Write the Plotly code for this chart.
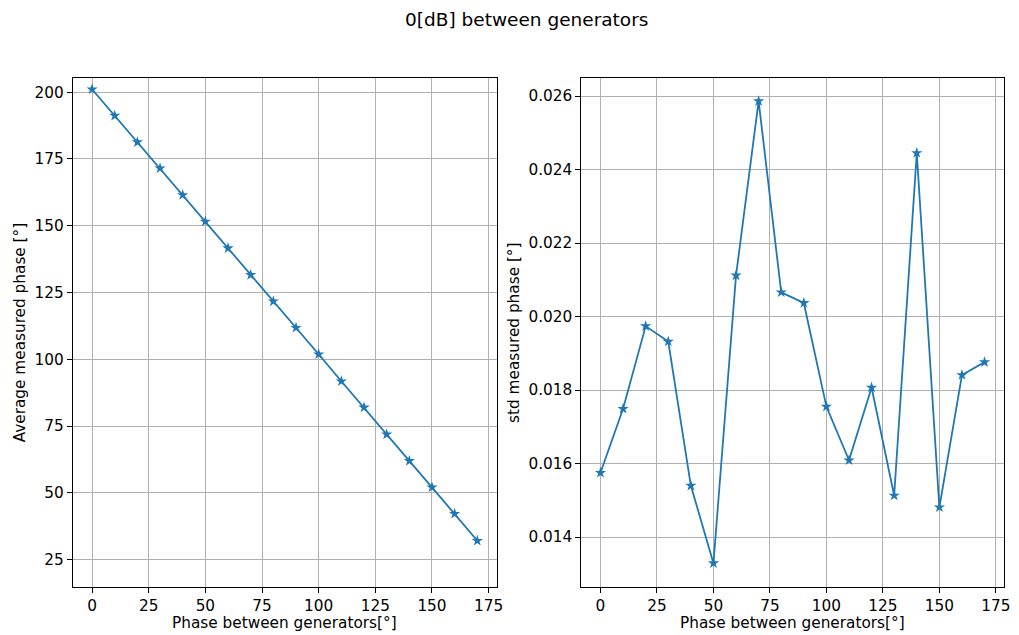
import plotly.graph_objects as go

# Phase offset between the two generators (degrees)
phase_between = [0, 10, 20, 30, 40, 50, 60, 70, 80, 90, 100, 110, 120, 130, 140, 150, 160, 170]

# Mean of the measured phase (degrees)
avg_measured = [201.1, 191.2, 181.3, 171.5, 161.5, 151.6, 141.6, 131.6, 121.7,
                111.8, 101.9, 91.8, 82.0, 71.9, 62.0, 52.1, 42.2, 32.1]

# Standard deviation of the measured phase (degrees)
std_measured = [0.01575, 0.01749, 0.01974, 0.01932, 0.01540, 0.01329, 0.02112, 0.02586, 0.02066,
                0.02037, 0.01755, 0.01609, 0.01807, 0.01513, 0.02445, 0.01481, 0.01841, 0.01876]

left_ticks = [25, 50, 75, 100, 125, 150, 175, 200]
right_ticks = [0.014, 0.016, 0.018, 0.020, 0.022, 0.024, 0.026]
x_ticks = [0, 25, 50, 75, 100, 125, 150, 175]

W, H = 1019, 635
BLUE = "#1f77b4"
FONT = "DejaVu Sans"
LABEL_SIZE = 15.3
TITLE_SIZE = 18.5


def px_x(v):
    return v / W


def px_y(v):
    return 1 - v / H


fig = go.Figure()

line_style = dict(color=BLUE, width=1.8)
marker_style = dict(symbol="star", size=8.5, color=BLUE)

fig.add_trace(go.Scatter(x=phase_between, y=avg_measured, mode="lines+markers",
                         line=line_style, marker=marker_style, xaxis="x", yaxis="y",
                         showlegend=False))
fig.add_trace(go.Scatter(x=phase_between, y=std_measured, mode="lines+markers",
                         line=line_style, marker=marker_style, xaxis="x2", yaxis="y2",
                         showlegend=False))

axis_common = dict(
    showline=True, linecolor="black", linewidth=1, mirror=True,
    ticks="outside", ticklen=5, tickwidth=1, tickcolor="black",
    showgrid=True, gridcolor="#b0b0b0", gridwidth=1,
    zeroline=False,
    tickfont=dict(family=FONT, size=LABEL_SIZE, color="black"),
)

fig.update_layout(
    width=W, height=H,
    margin=dict(l=0, r=0, t=0, b=0),
    paper_bgcolor="white", plot_bgcolor="white",
    font=dict(family=FONT, size=LABEL_SIZE, color="black"),
    xaxis=dict(domain=[px_x(73.3), px_x(500)], range=[-8.5, 178.5],
               tickvals=x_ticks, anchor="y", **axis_common),
    yaxis=dict(domain=[px_y(586.7), px_y(78)], range=[14.9, 205.3],
               tickvals=left_ticks, anchor="x", **axis_common),
    xaxis2=dict(domain=[px_x(585.3), px_x(1010.7)], range=[-8.5, 178.5],
                tickvals=x_ticks, anchor="y2", **axis_common),
    yaxis2=dict(domain=[px_y(586.7), px_y(78)], range=[0.01265, 0.02649],
                tickvals=right_ticks, tickformat=".3f", anchor="x2", **axis_common),
)

annotations = [
    dict(text="0[dB] between generators", x=px_x(530), y=px_y(19),
         font=dict(family=FONT, size=TITLE_SIZE, color="black")),
    dict(text="Average measured phase [°]", x=px_x(20), y=px_y(332.5), textangle=-90,
         font=dict(family=FONT, size=LABEL_SIZE, color="black")),
    dict(text="std measured phase [°]", x=px_x(517), y=px_y(332.5), textangle=-90,
         font=dict(family=FONT, size=LABEL_SIZE, color="black")),
    dict(text="Phase between generators[°]", x=px_x(286.7), y=px_y(623),
         font=dict(family=FONT, size=LABEL_SIZE, color="black")),
    dict(text="Phase between generators[°]", x=px_x(798), y=px_y(623),
         font=dict(family=FONT, size=LABEL_SIZE, color="black")),
]
for a in annotations:
    a.update(xref="paper", yref="paper", showarrow=False, xanchor="center", yanchor="middle")
fig.update_layout(annotations=annotations)

fig.write_html("out.html")
